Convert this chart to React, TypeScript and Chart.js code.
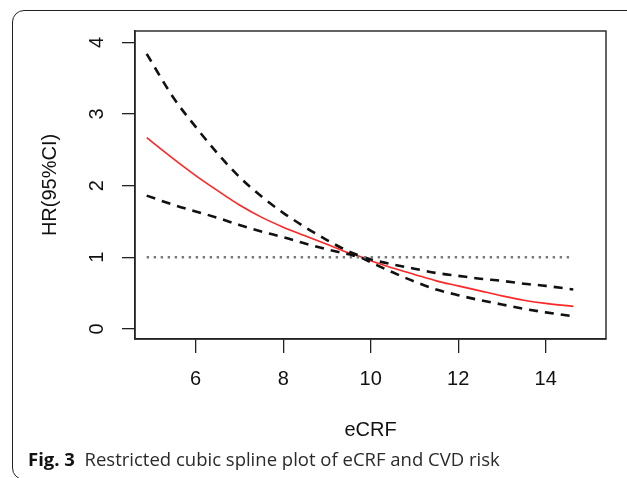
import React, { useEffect, useRef } from "react";
import { Chart, registerables } from "chart.js";

Chart.register(...registerables);

// eCRF values (x) and hazard ratios
const eCRF = [4.88, 5.5, 6, 6.5, 7, 7.5, 8, 8.5, 9, 9.5, 9.8, 10, 10.5, 11, 11.5, 12, 12.5, 13, 13.5, 14, 14.63];
const hr = [2.67, 2.37, 2.14, 1.93, 1.73, 1.56, 1.42, 1.3, 1.18, 1.06, 1.0, 0.95, 0.85, 0.76, 0.67, 0.6, 0.53, 0.46, 0.4, 0.355, 0.314];
const upperCI = [3.84, 3.22, 2.82, 2.45, 2.12, 1.85, 1.62, 1.42, 1.24, 1.08, 1.01, 0.97, 0.9, 0.84, 0.78, 0.74, 0.7, 0.67, 0.63, 0.6, 0.55];
const lowerCI = [1.86, 1.73, 1.64, 1.55, 1.45, 1.36, 1.28, 1.19, 1.11, 1.04, 0.99, 0.93, 0.79, 0.66, 0.55, 0.47, 0.4, 0.34, 0.28, 0.23, 0.175];
const refX = [4.88, 14.63];
const refY = [1, 1];

const xTicks = [6, 8, 10, 12, 14];
const yTicks = [0, 1, 2, 3, 4];
const xTitle = "eCRF";
const yTitle = "HR(95%CI)";
const captionBold = "Fig. 3";
const captionText = "Restricted cubic spline plot of eCRF and CVD risk";

const toPts = (xs: number[], ys: number[]) => xs.map((x, i) => ({ x, y: ys[i] }));

const framePlugin = {
  id: "frameBox",
  afterDraw(chart: any) {
    const { ctx, chartArea } = chart;
    ctx.save();
    ctx.strokeStyle = "#222";
    ctx.lineWidth = 1.4;
    ctx.strokeRect(chartArea.left, chartArea.top, chartArea.right - chartArea.left, chartArea.bottom - chartArea.top);
    ctx.restore();
  },
};

export default function App() {
  const ref = useRef<HTMLCanvasElement | null>(null);

  useEffect(() => {
    if (!ref.current) return;
    const font = "'Liberation Sans', Arial, sans-serif";
    const chart = new Chart(ref.current, {
      type: "line",
      data: {
        datasets: [
          {
            data: toPts(refX, refY),
            borderColor: "#7a7a7a",
            borderWidth: 2.4,
            borderDash: [2.4, 4.6],
            pointRadius: 0,
            fill: false,
          },
          {
            data: toPts(eCRF, upperCI),
            borderColor: "#111",
            borderWidth: 2.6,
            borderDash: [9, 7],
            pointRadius: 0,
            cubicInterpolationMode: "monotone",
            fill: false,
          },
          {
            data: toPts(eCRF, lowerCI),
            borderColor: "#111",
            borderWidth: 2.6,
            borderDash: [9, 7],
            pointRadius: 0,
            cubicInterpolationMode: "monotone",
            fill: false,
          },
          {
            data: toPts(eCRF, hr),
            borderColor: "rgb(255,38,38)",
            borderWidth: 1.6,
            pointRadius: 0,
            cubicInterpolationMode: "monotone",
            fill: false,
          },
        ],
      },
      options: {
        animation: false,
        responsive: false,
        devicePixelRatio: 1,
        layout: { padding: { left: 0, right: 21, top: 28, bottom: 0 } },
        plugins: { legend: { display: false }, tooltip: { enabled: false } },
        scales: {
          x: {
            type: "linear",
            min: 4.613,
            max: 15.378,
            afterBuildTicks: (s: any) => {
              s.ticks = xTicks.map((v) => ({ value: v }));
            },
            afterFit: (s: any) => {
              s.height = 111;
            },
            grid: { drawOnChartArea: false, drawTicks: true, tickLength: 14, color: "#222", lineWidth: 1.3 },
            border: { display: true, color: "#222", width: 1.4 },
            ticks: {
              color: "#111",
              font: { family: font, size: 20 },
              padding: 14,
              maxRotation: 0,
              autoSkip: false,
            },
            title: {
              display: true,
              text: xTitle,
              color: "#111",
              font: { family: font, size: 20 },
              padding: { top: 0, bottom: 8 },
            },
          },
          y: {
            type: "linear",
            min: -0.142,
            max: 4.159,
            afterBuildTicks: (s: any) => {
              s.ticks = yTicks.map((v) => ({ value: v }));
            },
            afterFit: (s: any) => {
              s.width = 135;
            },
            grid: { drawOnChartArea: false, drawTicks: true, tickLength: 13, color: "#222", lineWidth: 1.3 },
            border: { display: true, color: "#222", width: 1.4 },
            ticks: {
              color: "#111",
              font: { family: font, size: 20 },
              padding: 19,
              minRotation: 90,
              maxRotation: 90,
              crossAlign: "center",
              autoSkip: false,
            },
            title: {
              display: true,
              text: yTitle,
              color: "#111",
              font: { family: font, size: 20 },
              padding: { top: 38, bottom: 0 },
            },
          },
        },
      },
      plugins: [framePlugin],
    });
    return () => chart.destroy();
  }, []);

  return (
    <div
      style={{
        position: "fixed",
        left: 0,
        top: 0,
        width: 627,
        height: 478,
        overflow: "hidden",
        background: "#fff",
      }}
    >
      <div
        style={{
          position: "absolute",
          left: 12,
          top: 10,
          width: 700,
          height: 470,
          boxSizing: "border-box",
          border: "1.5px solid #222",
          borderRadius: 12,
        }}
      />
      <canvas ref={ref} width={627} height={450} style={{ position: "absolute", left: 0, top: 0, width: 627, height: 450 }} />
      <div
        style={{
          position: "absolute",
          left: 28,
          top: 449,
          fontFamily: "'Open Sans', 'Noto Sans', sans-serif",
          fontSize: 18.5,
          lineHeight: "20px",
          color: "#2a2a2a",
          whiteSpace: "nowrap",
        }}
      >
        <span style={{ fontWeight: 700, color: "#111" }}>{captionBold}</span>
        <span>{"\u00a0\u00a0" + captionText}</span>
      </div>
    </div>
  );
}
